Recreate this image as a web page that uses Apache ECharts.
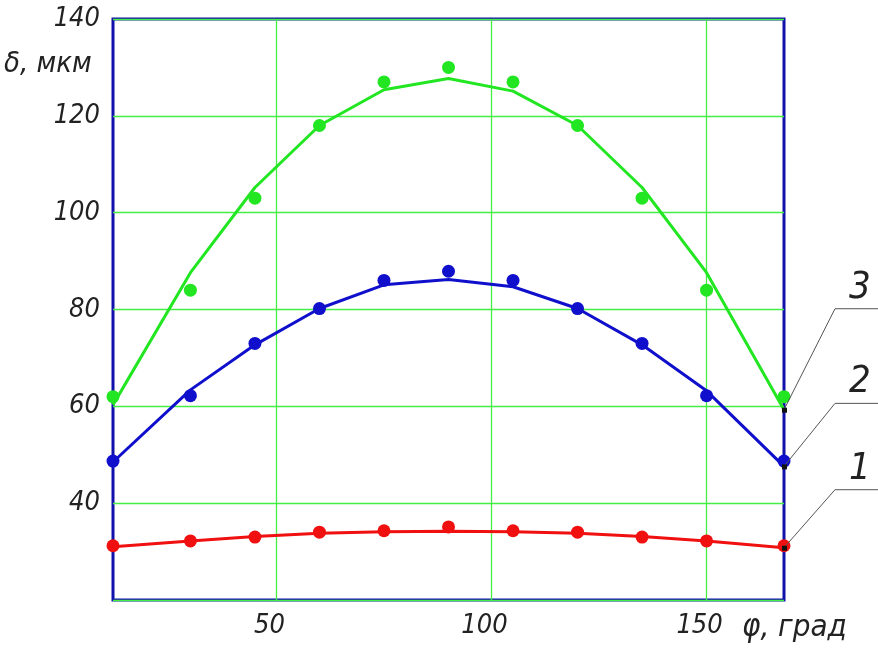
<!DOCTYPE html>
<html>
<head>
<meta charset="utf-8">
<script src="https://cdn.jsdelivr.net/npm/echarts@6/dist/echarts.min.js"></script>
<style>
  html, body { margin: 0; padding: 0; background: #fff; }
  #chart { width: 878px; height: 649px; }
</style>
</head>
<body>
<div id="chart"></div>
<script>
// angle, degrees
var angles = [12, 30, 45, 60, 75, 90, 105, 120, 135, 150, 168];
// measured points (markers)
var pts3 = [62, 84, 103, 118, 127, 130, 127, 118, 103, 84, 62];
var pts2 = [48.7, 62.2, 73, 80.2, 86, 87.9, 86, 80.2, 73, 62.2, 48.7];
var pts1 = [31.2, 32.2, 33, 34, 34.3, 35.1, 34.3, 34, 33, 32.2, 31.2];
// fitted curves
var fit3 = [60.3, 87.6, 105.2, 118, 125.4, 127.7, 125.1, 118, 105.2, 87.6, 59.3];
var fit2 = [48.5, 63.4, 72.7, 80.2, 85.1, 86.2, 84.7, 80.2, 72.7, 63.2, 47.6];
var fit1 = [31, 32.2, 33.1, 33.8, 34.1, 34.2, 34.1, 33.8, 33.1, 32.2, 30.8];
var xTicks = [50, 100, 150];
var curveNames = ['3', '2', '1'];

var cGreen = '#22e622', cBlue = '#1010cc', cRed = '#f01010';
var font = '"DejaVu Sans Condensed", "Liberation Sans Narrow", "Liberation Sans"';

function pairs(vals) {
    return angles.map(function (a, i) { return [a, vals[i]]; });
}
function lineSeries(vals, color) {
    return { type: 'line', data: pairs(vals), showSymbol: false, symbol: 'none',
        lineStyle: { color: color, width: 3 }, z: 3, silent: true };
}
function dotSeries(vals, color) {
    return { type: 'scatter', data: pairs(vals), symbolSize: 13,
        itemStyle: { color: color, opacity: 1 }, z: 4, silent: true };
}

var chart = echarts.init(document.getElementById('chart'));
var opt = {
    animation: false,
    backgroundColor: '#fff',
    grid: { left: 113, right: 94, top: 19, bottom: 49, show: true,
        borderColor: '#1010aa', borderWidth: 3, backgroundColor: 'transparent' },
    xAxis: {
        type: 'value', min: 12, max: 168,
        axisLine: { show: false },
        axisTick: { show: false, customValues: xTicks },
        axisLabel: { customValues: xTicks, margin: 12, color: '#222', padding: [0, 14, 0, 0],
            fontFamily: font, fontStyle: 'italic', fontWeight: 'lighter', fontSize: 27 },
        splitLine: { show: true, lineStyle: { color: '#44ee44', width: 1.3 } }
    },
    yAxis: {
        type: 'value', min: 20, max: 140, interval: 20,
        axisLine: { show: false }, axisTick: { show: false },
        axisLabel: { margin: 13, color: '#222', fontFamily: font, fontStyle: 'italic',
            fontWeight: 'lighter', fontSize: 27,
            formatter: function (v) { return v === 20 ? '' : v; } },
        splitLine: { show: true, lineStyle: { color: '#44ee44', width: 1.3 } }
    },
    series: [
        lineSeries(fit3, cGreen), dotSeries(pts3, cGreen),
        lineSeries(fit2, cBlue), dotSeries(pts2, cBlue),
        lineSeries(fit1, cRed), dotSeries(pts1, cRed)
    ]
};
chart.setOption(opt);

// leader lines with curve numbers
var ends = [fit3[fit3.length - 1], fit2[fit2.length - 1], fit1[fit1.length - 1]];
var rises = [101, 63, 58];
var g = [
    { type: 'text', left: 4, top: 50, style: { text: 'δ, мкм', fill: '#222',
        font: 'italic lighter 29px ' + font } },
    { type: 'text', left: 742, top: 612, style: { text: 'φ, град', fill: '#222',
        font: 'italic lighter 31px ' + font } }
];
ends.forEach(function (v, i) {
    var p = chart.convertToPixel({ gridIndex: 0 }, [168, v]);
    var kx = p[0] + 51, ky = p[1] - rises[i];
    g.push({ type: 'polyline', shape: { points: [p, [kx, ky], [878, ky]] },
        style: { stroke: '#555', lineWidth: 1, fill: null }, z: 10 });
    g.push({ type: 'rect', shape: { x: p[0] - 2, y: p[1] - 2, width: 5, height: 5 },
        style: { fill: '#111' }, z: 11 });
    g.push({ type: 'text', x: kx + 14, y: ky - 40, style: { text: curveNames[i], fill: '#222',
        font: 'italic lighter 38px ' + font }, z: 10 });
});
chart.setOption({ graphic: g });
</script>
</body>
</html>
